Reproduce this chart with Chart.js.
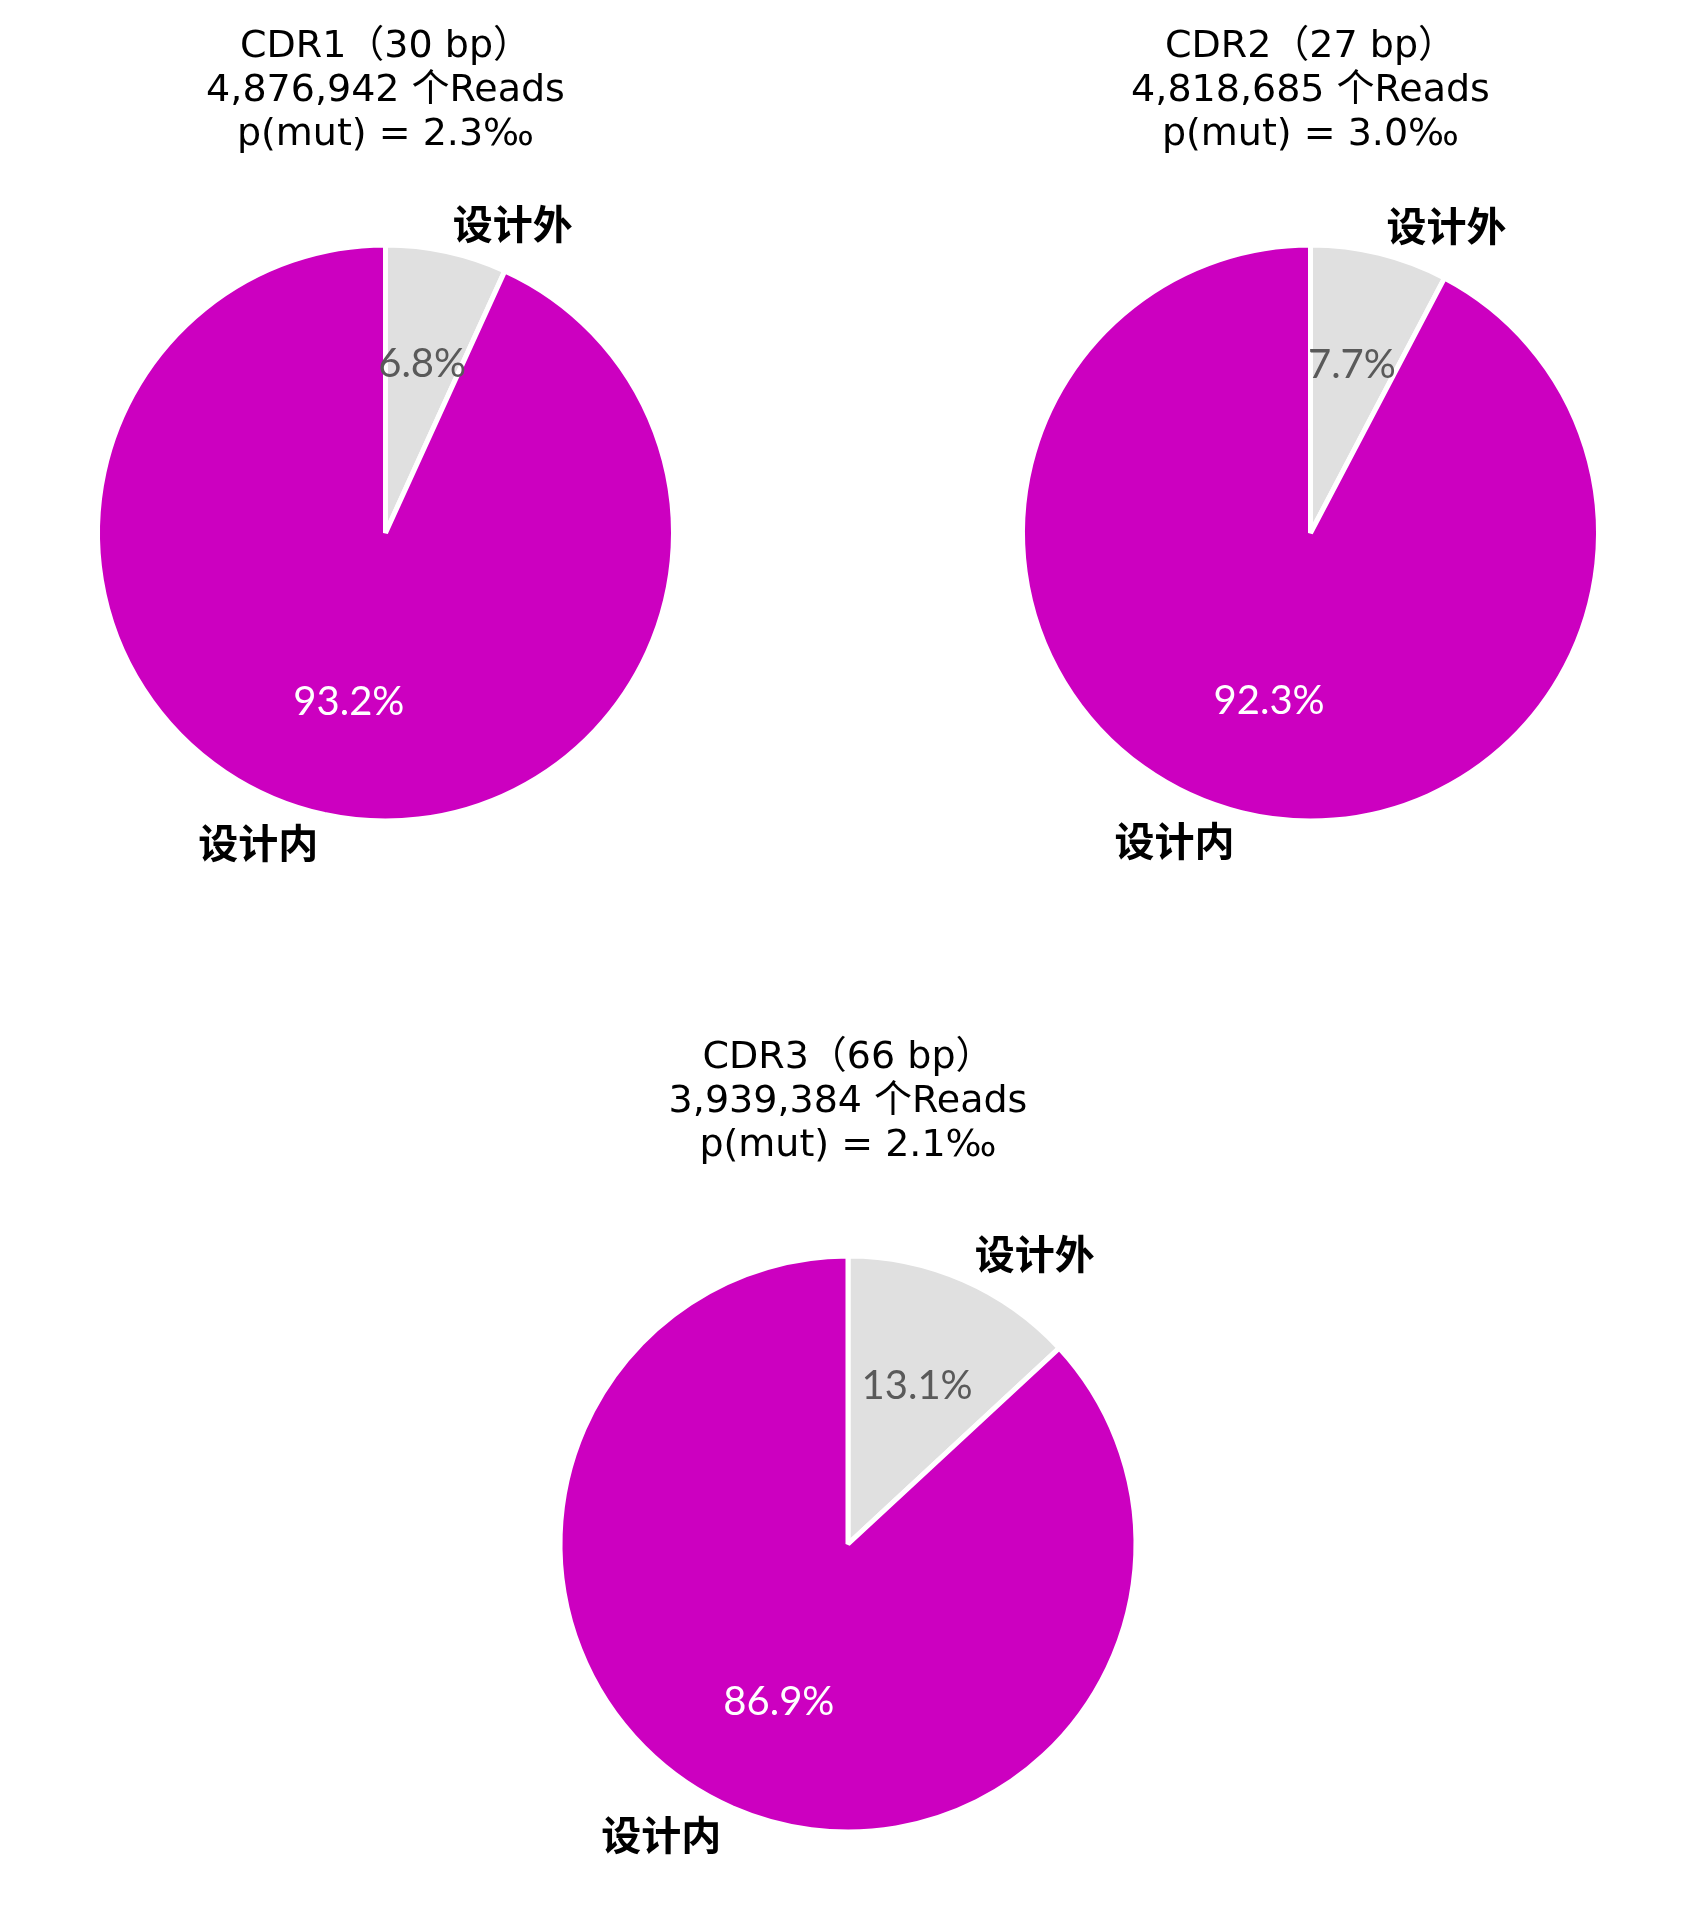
<!DOCTYPE html>
<html>
<head>
<meta charset="utf-8">
<script src="https://cdn.jsdelivr.net/npm/chart.js@4.4.1/dist/chart.umd.min.js"></script>
<style>
  html, body { margin: 0; padding: 0; background: #ffffff; }
  body { width: 1697px; height: 1929px; position: relative; overflow: hidden; }
  canvas { position: absolute; }
</style>
</head>
<body>
<canvas id="c1" style="left:5px;top:0px;width:761px;height:909px"></canvas>
<canvas id="c2" style="left:930px;top:0px;width:761px;height:909px"></canvas>
<canvas id="c3" style="left:468px;top:1011px;width:760px;height:909px"></canvas>
<script>
// ---- data ----
const categories = ['设计外', '设计内'];
const cdr1Values = [6.8, 93.2];
const cdr2Values = [7.7, 92.3];
const cdr3Values = [13.1, 86.9];
const cdr1Title = ['CDR1（30 bp）', '4,876,942 个Reads', 'p(mut) = 2.3‰'];
const cdr2Title = ['CDR2（27 bp）', '4,818,685 个Reads', 'p(mut) = 3.0‰'];
const cdr3Title = ['CDR3（66 bp）', '3,939,384 个Reads', 'p(mut) = 2.1‰'];

// ---- styles ----
const sliceColors = ['#e0e0e0', '#cc00c0'];
const pctColors = ['#5a5a5a', '#ffffff'];
const titleFont = '"DejaVu Sans", "Noto Sans CJK SC", sans-serif';
const latinFont = 'Lato, "Noto Sans CJK SC", sans-serif';
const cjkFont = '"Noto Sans CJK SC", sans-serif';

const pieLabels = {
  id: 'pieLabels',
  afterDatasetsDraw(chart) {
    const ctx = chart.ctx;
    const meta = chart.getDatasetMeta(0);
    const data = chart.data.datasets[0].data;
    const total = data.reduce((a, b) => a + b, 0);
    ctx.save();
    meta.data.forEach((arc, i) => {
      const p = arc.getProps(['x', 'y', 'startAngle', 'endAngle', 'outerRadius'], true);
      const mid = (p.startAngle + p.endAngle) / 2;
      const cos = Math.cos(mid), sin = Math.sin(mid);
      // percentage label
      ctx.font = '40px ' + latinFont;
      ctx.fillStyle = pctColors[i];
      ctx.textAlign = 'center';
      ctx.textBaseline = 'middle';
      const pd = 0.6 * p.outerRadius;
      ctx.fillText((data[i] / total * 100).toFixed(1) + '%', p.x + cos * pd, p.y + sin * pd);
      // category label
      ctx.font = 'bold 40px ' + cjkFont;
      ctx.fillStyle = '#000000';
      ctx.textAlign = cos >= 0 ? 'left' : 'right';
      const ld = 1.1 * p.outerRadius;
      ctx.fillText(chart.data.labels[i], p.x + cos * ld, p.y + sin * ld);
    });
    ctx.restore();
  }
};

function makePie(id, values, title) {
  new Chart(document.getElementById(id), {
    type: 'pie',
    data: {
      labels: categories,
      datasets: [{
        data: values,
        backgroundColor: sliceColors,
        borderColor: '#ffffff',
        borderWidth: 5,
        hoverOffset: 0
      }]
    },
    options: {
      responsive: false,
      animation: false,
      events: [],
      radius: 288,
      layout: { padding: 0 },
      plugins: {
        legend: { display: false },
        tooltip: { enabled: false },
        title: {
          display: true,
          text: title,
          color: '#000000',
          font: { family: titleFont, size: 38, weight: 'normal', lineHeight: 44 / 38 },
          padding: { top: 25, bottom: 0 }
        }
      }
    },
    plugins: [pieLabels]
  });
}

function sizeCanvas(id) {
  const c = document.getElementById(id);
  c.width = parseInt(c.style.width);
  c.height = parseInt(c.style.height);
}
['c1', 'c2', 'c3'].forEach(sizeCanvas);
makePie('c1', cdr1Values, cdr1Title);
makePie('c2', cdr2Values, cdr2Title);
makePie('c3', cdr3Values, cdr3Title);
</script>
</body>
</html>
